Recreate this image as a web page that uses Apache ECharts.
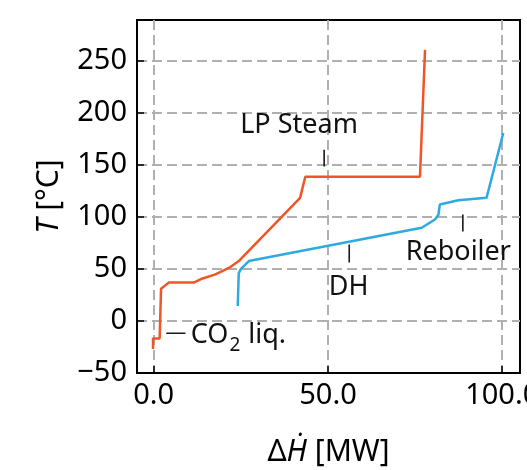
<!DOCTYPE html>
<html>
<head>
<meta charset="utf-8">
<script src="https://cdn.jsdelivr.net/npm/echarts@6/dist/echarts.min.js"></script>
<style>
  html, body { margin: 0; padding: 0; background: #fff; }
  #chart { width: 527px; height: 470px; }
</style>
</head>
<body>
<div id="chart"></div>
<script>
// Composite curves: heat flow [MW] vs temperature [°C]
const steamDH = [-0.2, -0.2, 1.7, 2.1, 4.3, 11.5, 13.4, 17.7, 22.0, 24.4, 42.0, 43.5, 76.4, 77.85];
const steamT  = [-27.0, -16.9, -16.9, 31.0, 36.8, 36.8, 40.0, 44.7, 51.7, 57.5, 118.2, 138.5, 138.5, 260.5];

const sinkDH = [24.1, 24.4, 25.1, 27.3, 76.9, 80.7, 81.7, 82.1, 87.4, 95.5, 100.3];
const sinkT  = [14.4, 46.0, 50.2, 57.5, 89.5, 97.4, 102.0, 111.8, 115.9, 118.2, 180.5];

// Axis ticks
const xTicks = [0, 50, 100];
const yTicks = [-50, 0, 50, 100, 150, 200, 250];

// Annotation texts, their anchor points and short leader lines (data coordinates)
const noteTexts  = ['LP Steam', 'DH', 'Reboiler', '{n|CO}{s|2}{n| liq.}'];
const noteAnchor = [[41.7, 188.0], [55.9, 32.5], [87.4, 66.0], [24.3, -14.0]];
const noteLeader = [
  [[48.9, 148.2], [48.9, 164.5]],
  [[56.1, 56.2], [56.1, 73.5]],
  [[88.7, 85.9], [88.7, 102.2]],
  [[3.6, -11.8], [9.1, -11.8]]
];

const FONT = 'Noto Sans';
const zip = (xs, ys) => xs.map((x, i) => [x, ys[i]]);

const chart = echarts.init(document.getElementById('chart'), null, { renderer: 'canvas' });

const leaderSeries = noteLeader.map(seg => ({
  type: 'line',
  data: seg,
  showSymbol: false,
  silent: true,
  lineStyle: { color: '#1a1a1a', width: 1.6 },
  z: 4
}));

const gridLine = { show: true, lineStyle: { color: '#b0b0b0', width: 2, type: [10, 5] } };
const nameRich = {
  n: { fontFamily: FONT, fontSize: 30, color: '#000' },
  i: { fontFamily: FONT, fontSize: 30, color: '#000', fontStyle: 'italic' }
};

const option = {
  backgroundColor: '#ffffff',
  animation: false,
  grid: {
    left: 137, right: 7, top: 20, bottom: 97,
    outerBoundsMode: 'none',
    containLabel: false,
    show: true, borderColor: '#000', borderWidth: 2, backgroundColor: 'transparent'
  },
  xAxis: {
    type: 'value',
    min: -4.8, max: 105.1,
    name: '{n|Δ}{i|Ḣ}{n| [MW]}',
    nameLocation: 'middle',
    nameGap: 64,
    nameTextStyle: { rich: nameRich },
    axisLine: { show: true, onZero: false, lineStyle: { color: '#000', width: 2 } },
    axisTick: { show: true, inside: true, length: 7, customValues: xTicks, lineStyle: { color: '#000', width: 1.5 } },
    axisLabel: {
      customValues: xTicks,
      fontFamily: FONT, fontSize: 29, color: '#000', margin: 8,
      formatter: v => v.toFixed(1)
    },
    splitLine: gridLine
  },
  yAxis: {
    type: 'value',
    min: -50, max: 289,
    name: '{i|T}{n| [°C]}',
    nameLocation: 'middle',
    nameGap: 73,
    nameRotate: 90,
    nameTextStyle: { rich: nameRich },
    axisLine: { show: true, onZero: false, lineStyle: { color: '#000', width: 2 } },
    axisTick: { show: true, inside: true, length: 7, customValues: yTicks, lineStyle: { color: '#000', width: 1.5 } },
    axisLabel: {
      customValues: yTicks,
      fontFamily: FONT, fontSize: 29, color: '#000', margin: 10,
      formatter: v => (v < 0 ? '\u2212' + Math.abs(v) : String(v))
    },
    splitLine: gridLine
  },
  series: [
    {
      name: 'LP Steam',
      type: 'line',
      data: zip(steamDH, steamT),
      showSymbol: false,
      lineStyle: { color: '#ef5527', width: 2.5 },
      z: 3
    },
    {
      name: 'Sinks',
      type: 'line',
      data: zip(sinkDH, sinkT),
      showSymbol: false,
      lineStyle: { color: '#2eaae0', width: 2.5 },
      z: 3
    },
    ...leaderSeries,
    {
      type: 'scatter',
      data: noteAnchor.map((p, i) => ({ value: p, name: noteTexts[i] })),
      symbolSize: 0,
      itemStyle: { color: '#ffffff', opacity: 1 },
      silent: true,
      label: {
        show: true,
        position: 'inside',
        formatter: p => p.name,
        fontFamily: FONT, fontSize: 27, color: '#111111',
        rich: {
          n: { fontFamily: FONT, fontSize: 27, color: '#111111' },
          s: { fontFamily: FONT, fontSize: 19, color: '#111111', padding: [20, 1, 0, 1] }
        }
      },
      z: 5
    }
  ]
};

chart.setOption(option);
</script>
</body>
</html>
